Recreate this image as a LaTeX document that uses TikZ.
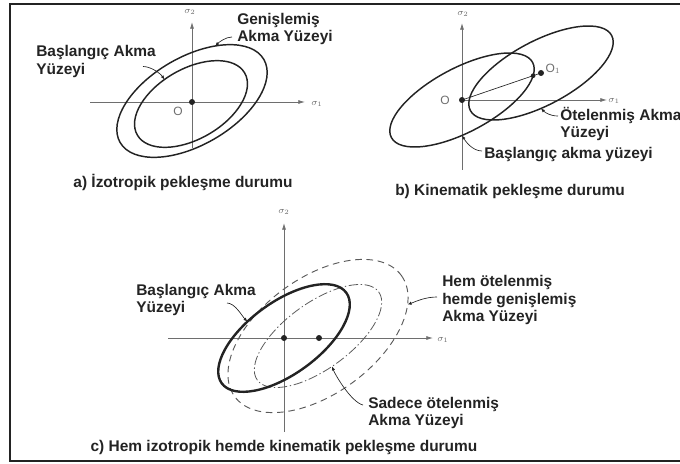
\documentclass[tikz,border=0pt]{standalone}
\usepackage{amsmath}
\usepackage{fontspec}
\setmainfont{Liberation Sans}
\usetikzlibrary{arrows.meta,calc}
\definecolor{ink}{RGB}{35,35,35}
\definecolor{axgray}{RGB}{110,110,110}
\definecolor{dashgray}{RGB}{90,90,90}
\tikzset{
  ax/.style={-{Latex[length=5pt,width=3pt]},draw=axgray,line width=.6pt},
  surf/.style={draw=ink,line width=1.1pt},
  lab/.style={font=\fontsize{11.6}{13}\selectfont\bfseries,text=ink,align=left,inner sep=0pt,anchor=west},
  capt/.style={font=\fontsize{11.6}{13}\selectfont\bfseries,text=ink,inner sep=0pt},
  sig/.style={font=\scriptsize,text=axgray,inner sep=0pt},
  olab/.style={font=\fontsize{9}{9}\selectfont,text=axgray,inner sep=0pt},
  lead/.style={draw=ink,line width=.5pt,-{Latex[length=3pt,width=2.5pt]}},
  dot/.style={circle,fill=ink,inner sep=0pt,minimum size=4.5pt}
}

\begin{document}
\begin{tikzpicture}[x=0.75pt,y=-0.75pt]
  \useasboundingbox (0,0) rectangle (680,463);
  \draw[ink,line width=1.5pt] (682,4) -- (10,4) -- (10,461) -- (682,461);

  % a) isotropic
  \draw[ax] (192,148) -- (192,22);
  \draw[ax] (90,102) -- (305,102);
  \node[sig] (s2a) at (190,12) {$\sigma_2$};
  \node[sig] (s1a) at (317,104) {$\sigma_1$};
  \begin{scope}[shift={(192,101)},rotate=30]
    \draw[surf] (0,0) ellipse [x radius=83,y radius=44];
    \coordinate (aOutPt) at (-55:83 and 44);
  \end{scope}
  \begin{scope}[shift={(191,104)},rotate=30]
    \draw[surf] (0,0) ellipse [x radius=62,y radius=35];
    \coordinate (aInPt) at (-100:62 and 35);
  \end{scope}
  \node[dot] (oa) at (192,102) {};
  \node[olab] (oaLab) at (178,111) {O};
  \node[lab] (genis) at (237,29) {Genişlemiş\\Akma Yüzeyi};
  \node[lab] (baslA) at (36,61.5) {Başlangıç Akma\\Yüzeyi};
  \draw[lead] ($(genis.west)+(-5,8)$) .. controls +(-6,0) and +(4,-4) .. (aOutPt);
  \draw[lead] ($(baslA.west)+(107,5)$) .. controls +(8,0) and +(-4,-6) .. (aInPt);
  \node[capt] (capA) at (183,182) {a) İzotropik pekleşme durumu};

  % b) kinematic
  \draw[ax] (462,170) -- (462,23);
  \draw[ax] (462,100) -- (607,100);
  \node[sig] (s2b) at (463,14) {$\sigma_2$};
  \node[sig] (s1b) at (614,101) {$\sigma_1$};
  \begin{scope}[shift={(462,100)},rotate=28]
    \draw[surf] (0,0) ellipse [x radius=80,y radius=32];
    \coordinate (bIniPt) at (102:80 and 32);
  \end{scope}
  \begin{scope}[shift={(541,73)},rotate=28]
    \draw[surf] (0,0) ellipse [x radius=80,y radius=32];
    \coordinate (bShiftPt) at (102:80 and 32);
  \end{scope}
  \node[dot] (ob) at (462,100) {};
  \node[dot] (o1) at (541,73) {};
  \draw[ink,line width=.5pt] (ob.center) -- (o1.center);
  \node[dot,minimum size=3.5pt] (mb) at ($(ob)!0.9!(o1)$) {};
  \node[olab] (obLab) at (445,100) {O};
  \node[olab] (o1Lab) at (553,69) {O$_1$};
  \node[lab] (otel) at (560,124) {Ötelenmiş Akma\\Yüzeyi};
  \node[lab] (baslB) at (484,155) {Başlangıç akma yüzeyi};
  \draw[lead] ($(otel.west)+(-2,-8)$) .. controls +(-8,0) and +(4,4) .. (bShiftPt);
  \draw[lead] ($(baslB.west)+(-2,-4)$) .. controls +(-10,0) and +(3,5) .. (bIniPt);
  \node[capt] (capB) at (510,192) {b) Kinematik pekleşme durumu};

  % c) combined
  \draw[ax] (284,432) -- (284,223);
  \draw[ax] (168,338) -- (433,338);
  \node[sig] (s2c) at (284,212) {$\sigma_2$};
  \node[sig] (s1c) at (443,340) {$\sigma_1$};
  \begin{scope}[shift={(318,336)},rotate=36]
    \draw[dashgray,line width=.7pt,dash pattern=on 5pt off 3.5pt] (0,0) ellipse [x radius=103,y radius=58];
    \coordinate (cBigPt) at (28:103 and 58);
    \draw[dashgray,line width=.6pt,dash pattern=on 7pt off 2pt on 1pt off 2pt] (0,0) ellipse [x radius=75,y radius=33];
    \coordinate (cMovPt) at (95:75 and 33);
  \end{scope}
  \begin{scope}[shift={(284,338)},rotate=36]
    \draw[ink,line width=1.8pt] (0,0) ellipse [x radius=77,y radius=36];
    \coordinate (cIniPt) at (-105:77 and 36);
  \end{scope}
  \node[dot] (oc) at (284,338) {};
  \node[dot] (oc1) at (319,338) {};
  \node[lab] (baslC) at (136,300) {Başlangıç Akma\\Yüzeyi};
  \node[lab] (hem) at (442,300) {Hem ötelenmiş\\hemde genişlemiş\\Akma Yüzeyi};
  \node[lab] (sadece) at (368,413) {Sadece ötelenmiş\\Akma Yüzeyi};
  \draw[lead] ($(baslC.west)+(91,3)$) .. controls +(8,0) and +(-5,-5) .. (cIniPt);
  \draw[lead] ($(hem.west)+(-5,-3)$) .. controls +(-12,0) and +(8,-3) .. (cBigPt);
  \draw[lead] ($(sadece.west)+(-5,-8)$) .. controls +(-12,-3) and +(3,8) .. (cMovPt);
  \node[capt] (capC) at (284,447) {c) Hem izotropik hemde kinematik pekleşme durumu};
\end{tikzpicture}
\end{document}
